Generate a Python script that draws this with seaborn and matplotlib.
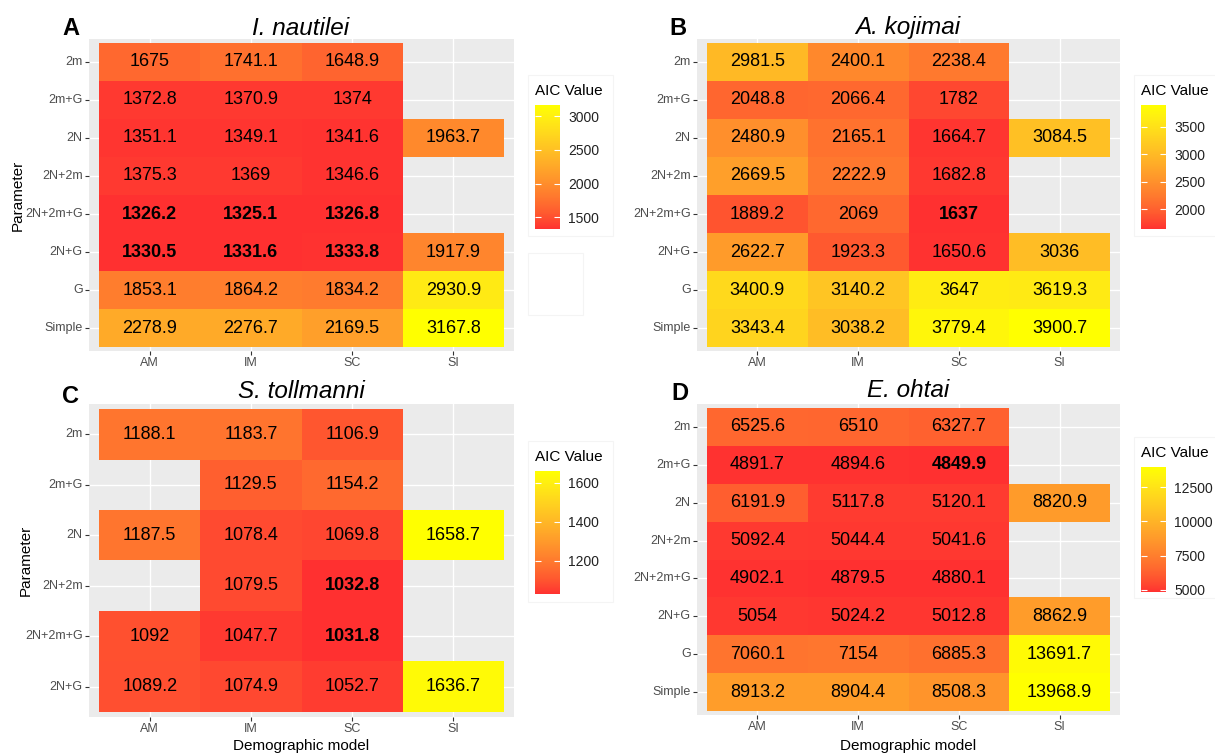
import numpy as np
import pandas as pd
import matplotlib
matplotlib.use("Agg")
import matplotlib.pyplot as plt
import seaborn as sns
from matplotlib.colors import ListedColormap
from matplotlib.patches import Rectangle

# --- data ---
models = ["AM", "IM", "SC", "SI"]
rows_full = ["2m", "2m+G", "2N", "2N+2m", "2N+2m+G", "2N+G", "G", "Simple"]
rows_toll = ["2m", "2m+G", "2N", "2N+2m", "2N+2m+G", "2N+G"]
nan = np.nan

nautilei = [
    [1675, 1741.1, 1648.9, nan],
    [1372.8, 1370.9, 1374, nan],
    [1351.1, 1349.1, 1341.6, 1963.7],
    [1375.3, 1369, 1346.6, nan],
    [1326.2, 1325.1, 1326.8, nan],
    [1330.5, 1331.6, 1333.8, 1917.9],
    [1853.1, 1864.2, 1834.2, 2930.9],
    [2278.9, 2276.7, 2169.5, 3167.8],
]
kojimai = [
    [2981.5, 2400.1, 2238.4, nan],
    [2048.8, 2066.4, 1782, nan],
    [2480.9, 2165.1, 1664.7, 3084.5],
    [2669.5, 2222.9, 1682.8, nan],
    [1889.2, 2069, 1637, nan],
    [2622.7, 1923.3, 1650.6, 3036],
    [3400.9, 3140.2, 3647, 3619.3],
    [3343.4, 3038.2, 3779.4, 3900.7],
]
tollmanni = [
    [1188.1, 1183.7, 1106.9, nan],
    [nan, 1129.5, 1154.2, nan],
    [1187.5, 1078.4, 1069.8, 1658.7],
    [nan, 1079.5, 1032.8, nan],
    [1092, 1047.7, 1031.8, nan],
    [1089.2, 1074.9, 1052.7, 1636.7],
]
ohtai = [
    [6525.6, 6510, 6327.7, nan],
    [4891.7, 4894.6, 4849.9, nan],
    [6191.9, 5117.8, 5120.1, 8820.9],
    [5092.4, 5044.4, 5041.6, nan],
    [4902.1, 4879.5, 4880.1, nan],
    [5054, 5024.2, 5012.8, 8862.9],
    [7060.1, 7154, 6885.3, 13691.7],
    [8913.2, 8904.4, 8508.3, 13968.9],
]

bold_nautilei = [("2N+2m+G", "AM"), ("2N+2m+G", "IM"), ("2N+2m+G", "SC"),
                 ("2N+G", "AM"), ("2N+G", "IM"), ("2N+G", "SC")]
bold_kojimai = [("2N+2m+G", "SC")]
bold_tollmanni = [("2N+2m", "SC"), ("2N+2m+G", "SC")]
bold_ohtai = [("2m+G", "SC")]

ticks_nautilei = [1500, 2000, 2500, 3000]
ticks_kojimai = [2000, 2500, 3000, 3500]
ticks_tollmanni = [1200, 1400, 1600]
ticks_ohtai = [5000, 7500, 10000, 12500]

# --- ggplot-like red -> yellow gradient, interpolated in CIELAB ---
M = np.array([[0.4124, 0.3576, 0.1805], [0.2126, 0.7152, 0.0722], [0.0193, 0.1192, 0.9505]])
white = np.array([0.95047, 1.0, 1.08883])


def to_lab(hexcol):
    c = np.array([int(hexcol[i:i + 2], 16) / 255 for i in (1, 3, 5)])
    lin = np.where(c <= 0.04045, c / 12.92, ((c + 0.055) / 1.055) ** 2.4)
    xyz = M @ lin / white
    f = np.where(xyz > 0.008856, np.cbrt(xyz), 7.787 * xyz + 16 / 116)
    return np.array([116 * f[1] - 16, 500 * (f[0] - f[1]), 200 * (f[1] - f[2])])


def from_lab(lab):
    fy = (lab[0] + 16) / 116
    f = np.array([fy + lab[1] / 500, fy, fy - lab[2] / 200])
    xyz = np.where(f ** 3 > 0.008856, f ** 3, (f - 16 / 116) / 7.787) * white
    lin = np.clip(np.linalg.inv(M) @ xyz, 0, 1)
    srgb = np.where(lin <= 0.0031308, 12.92 * lin, 1.055 * lin ** (1 / 2.4) - 0.055)
    return np.clip(srgb, 0, 1)


lo, hi = to_lab("#FF3030"), to_lab("#FFFF00")
aic_cmap = ListedColormap([from_lab(lo + t * (hi - lo)) for t in np.linspace(0, 1, 256)])

# --- figure ---
W, H = 1215, 754
fig = plt.figure(figsize=(W / 100, H / 100), dpi=100)
plt.rcParams['font.family'] = ['Liberation Sans', 'DejaVu Sans']


def px_rect(x0, y0, x1, y1):
    return [x0 / W, 1 - y1 / H, (x1 - x0) / W, (y1 - y0) / H]


def add_box(x0, y0, x1, y1):
    fig.patches.append(Rectangle((x0 / W, 1 - y1 / H), (x1 - x0) / W, (y1 - y0) / H,
                                 transform=fig.transFigure, facecolor="white",
                                 edgecolor="#F4F4F4", lw=0.8, zorder=-5))


def draw_panel(box, cbar_box, legend_box, values, rows, bold, ticks):
    add_box(*legend_box)
    ax = fig.add_axes(px_rect(*box))
    cax = fig.add_axes(px_rect(*cbar_box))
    df = pd.DataFrame(values, index=rows, columns=models)
    labels = df.apply(lambda col: col.map(lambda v: "" if pd.isna(v) else f"{v:g}"))
    sns.heatmap(df, ax=ax, cbar_ax=cax, cmap=aic_cmap, annot=labels.values, fmt="",
                annot_kws={"color": "black", "fontsize": 13},
                cbar_kws={"ticks": ticks})
    for t in ax.texts:
        x, y = t.get_position()
        if (rows[int(y)], models[int(x)]) in bold:
            t.set_fontweight("bold")

    ax.set_facecolor("#EBEBEB")
    ax.set_xlim(-0.1, len(models) + 0.1)
    ax.set_ylim(len(rows) + 0.1, -0.1)
    ax.set_xticks(np.arange(len(models)) + 0.5)
    ax.set_xticklabels(models, rotation=0)
    ax.set_yticks(np.arange(len(rows)) + 0.5)
    ax.set_yticklabels(rows, rotation=0)
    ax.grid(True, color="white", linewidth=1.0)
    ax.set_axisbelow(True)
    for s in ax.spines.values():
        s.set_visible(False)
    ax.tick_params(length=3, width=0.8, color="#333333", labelcolor="#4D4D4D",
                   labelsize=9, pad=1.5)
    ax.set_xlabel("")
    ax.set_ylabel("")

    cbar = ax.collections[0].colorbar
    cbar.outline.set_visible(False)
    cax.tick_params(direction="in", length=4, width=0.8, color="white",
                    labelcolor="#222222", labelsize=10, left=True, right=True, pad=6)
    cx0, cy0 = cbar_box[0], cbar_box[1]
    fig.text(cx0 / W, 1 - (cy0 - 14) / H, "AIC Value", fontsize=11, ha="left", va="center")
    return ax


draw_panel((89, 39, 514, 351), (535, 105, 560, 229), (528, 75, 613, 236),
           nautilei, rows_full, bold_nautilei, ticks_nautilei)
draw_panel((697, 39, 1120, 351), (1141, 105, 1166, 229), (1134, 75, 1240, 236),
           kojimai, rows_full, bold_kojimai, ticks_kojimai)
draw_panel((89, 404, 514, 717), (535, 471, 560, 594), (528, 441, 613, 602),
           tollmanni, rows_toll, bold_tollmanni, ticks_tollmanni)
draw_panel((697, 404, 1120, 715), (1141, 467, 1166, 592), (1134, 437, 1240, 598),
           ohtai, rows_full, bold_ohtai, ticks_ohtai)

# leftover empty legend box in panel A
add_box(528, 253, 583, 315)

# panel letters and species titles
letters = [("A", 62, 35), ("B", 669, 35), ("C", 62, 403), ("D", 671, 400)]
for lab, x, y in letters:
    fig.text(x / W, 1 - y / H, lab, fontsize=17, fontweight="bold", va="baseline")

titles = [("I. nautilei", 301, 35), ("A. kojimai", 908, 34),
          ("S. tollmanni", 301, 398), ("E. ohtai", 908, 397)]
for name, x, y in titles:
    fig.text(x / W, 1 - y / H, name, fontsize=17.5, style="italic", ha="center", va="baseline")

fig.text(18 / W, 1 - 195 / H, "Parameter", fontsize=11, rotation=90, ha="center", va="center")
fig.text(26 / W, 1 - 560 / H, "Parameter", fontsize=11, rotation=90, ha="center", va="center")
fig.text(301 / W, 1 - 746 / H, "Demographic model", fontsize=11, ha="center", va="center")
fig.text(908 / W, 1 - 746 / H, "Demographic model", fontsize=11, ha="center", va="center")

fig.savefig("out.png", dpi=100)
